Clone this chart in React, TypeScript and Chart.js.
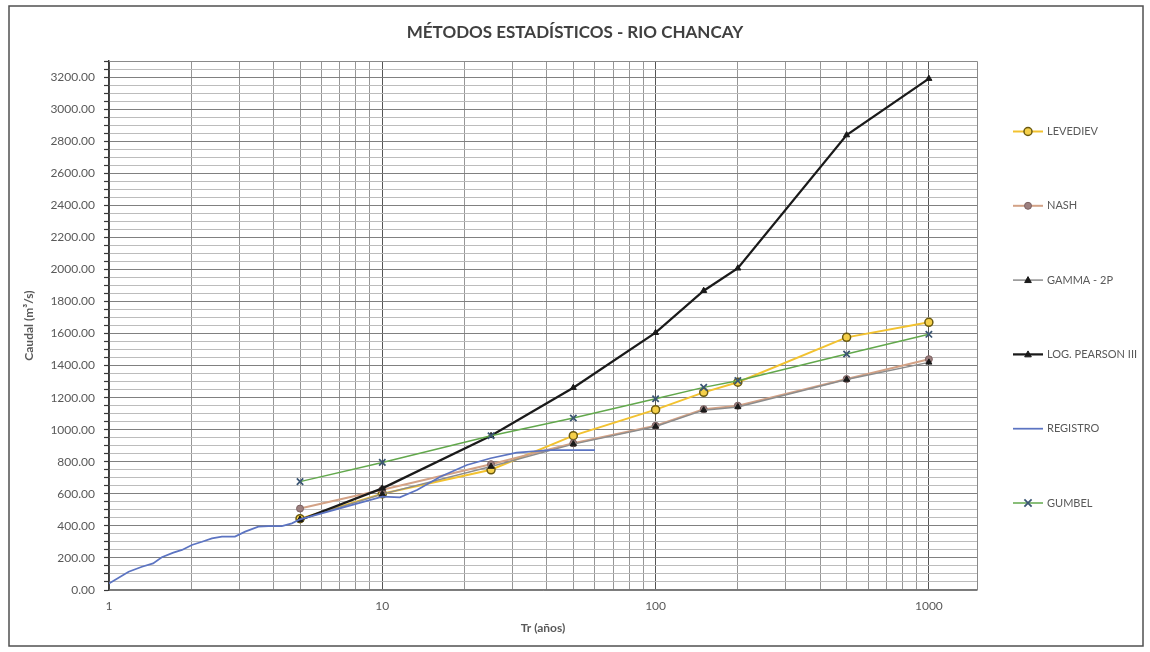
import React, { useEffect, useRef } from 'react';
import { Chart, registerables } from 'chart.js';

Chart.register(...registerables);

// ---------------- data ----------------
const CHART_TITLE = 'MÉTODOS ESTADÍSTICOS - RIO CHANCAY';
const X_TITLE = 'Tr (años)';
const Y_TITLE = 'Caudal (m³/s)';

const returnPeriods = [5, 10, 25, 50, 100, 150, 200, 500, 1000];
const levediev = [445, 600, 750, 963, 1125, 1233, 1296, 1576, 1670];
const nash = [508, 625, 785, 915, 1025, 1128, 1150, 1316, 1440];
const gamma2p = [440, 598, 770, 910, 1020, 1122, 1142, 1313, 1420];
const logPearson = [437, 634, 962, 1262, 1605, 1867, 2007, 2838, 3190];
const gumbel = [676, 796, 962, 1073, 1193, 1264, 1306, 1472, 1595];

const registroTr = [1.0, 1.18, 1.32, 1.45, 1.56, 1.72, 1.85, 2.01, 2.19, 2.38, 2.59, 2.89, 3.15, 3.52, 3.83, 4.29, 4.67, 5.0, 10, 11.6, 13.4, 16.3, 20.4, 24.9, 31, 41, 60];
const registroQ = [40, 114, 145, 166, 204, 233, 250, 281, 301, 322, 333, 333, 364, 395, 399, 399, 416, 441, 582, 578, 624, 707, 780, 822, 857, 873, 873];

const seriesNames = ['LEVEDIEV', 'NASH', 'GAMMA - 2P', 'LOG. PEARSON III', 'REGISTRO', 'GUMBEL'];

const xMin = 1;
const xMax = 1500;
const yMin = 0;
const yMax = 3300;
const yMinorStep = 50;
const yMajorStep = 200;
const xLabelTicks = [1, 10, 100, 1000];
const xGridTicks = [1, 2, 3, 4, 5, 6, 7, 8, 9, 10, 20, 30, 40, 50, 60, 70, 80, 90, 100, 200, 300, 400, 500, 600, 700, 800, 900, 1000];

// ---------------- helpers ----------------
const FONT = 'Lato, "Open Sans", "DejaVu Sans", sans-serif';
const TEXT = '#595959';

const toPoints = (xs: number[], ys: number[]) => xs.map((x, i) => ({ x, y: ys[i] }));

function drawMarker(ctx: CanvasRenderingContext2D, style: string, x: number, y: number, r: number, fill: string, stroke: string, lw: number) {
  ctx.save();
  ctx.fillStyle = fill;
  ctx.strokeStyle = stroke;
  ctx.lineWidth = lw;
  ctx.beginPath();
  if (style === 'circle') {
    ctx.arc(x, y, r, 0, Math.PI * 2);
    ctx.fill();
    ctx.stroke();
  } else if (style === 'triangle') {
    ctx.moveTo(x, y - r);
    ctx.lineTo(x + r * 0.95, y + r * 0.7);
    ctx.lineTo(x - r * 0.95, y + r * 0.7);
    ctx.closePath();
    ctx.fill();
    ctx.stroke();
  } else if (style === 'crossRot') {
    const d = r * 0.8;
    ctx.moveTo(x - d, y - d);
    ctx.lineTo(x + d, y + d);
    ctx.moveTo(x + d, y - d);
    ctx.lineTo(x - d, y + d);
    ctx.stroke();
  }
  ctx.restore();
}

const framePlugin = {
  id: 'frame',
  beforeDraw(chart: any) {
    const { ctx, width, height } = chart;
    ctx.save();
    ctx.fillStyle = '#ffffff';
    ctx.fillRect(0, 0, width, height);
    ctx.strokeStyle = '#505050';
    ctx.lineWidth = 1.5;
    ctx.strokeRect(9, 6, 1134, 640);
    ctx.restore();
  },
  beforeDatasetsDraw(chart: any) {
    const { ctx, chartArea } = chart;
    ctx.save();
    ctx.strokeStyle = '#8a8a8a';
    ctx.lineWidth = 1;
    ctx.beginPath();
    ctx.moveTo(chartArea.left, chartArea.top + 0.5);
    ctx.lineTo(chartArea.right + 0.5, chartArea.top + 0.5);
    ctx.lineTo(chartArea.right + 0.5, chartArea.bottom);
    ctx.stroke();
    ctx.restore();
  },
};

const sideLegendPlugin = {
  id: 'sideLegend',
  afterDraw(chart: any) {
    const ctx = chart.ctx as CanvasRenderingContext2D;
    const x0 = 1013;
    const x1 = 1043;
    const textX = 1047;
    const yStart = 131.5;
    const step = 74.3;
    chart.data.datasets.forEach((ds: any, i: number) => {
      const y = yStart + i * step;
      ctx.save();
      ctx.strokeStyle = ds.borderColor;
      ctx.lineWidth = ds.borderWidth;
      ctx.beginPath();
      ctx.moveTo(x0, y);
      ctx.lineTo(x1, y);
      ctx.stroke();
      ctx.restore();
      if (ds.pointRadius > 0) {
        drawMarker(ctx, ds.pointStyle, (x0 + x1) / 2, y, ds.pointRadius, ds.pointBackgroundColor, ds.pointBorderColor, ds.pointBorderWidth);
      }
      ctx.save();
      ctx.fillStyle = TEXT;
      ctx.font = `11px ${FONT}`;
      ctx.textBaseline = 'middle';
      ctx.textAlign = 'left';
      ctx.fillText(ds.label, textX, y);
      ctx.restore();
    });
  },
};

export default function App() {
  const canvasRef = useRef<HTMLCanvasElement | null>(null);

  useEffect(() => {
    const canvas = canvasRef.current;
    if (!canvas) return;

    const datasets: any[] = [
      {
        label: seriesNames[0],
        data: toPoints(returnPeriods, levediev),
        borderColor: '#F2C230',
        borderWidth: 2,
        pointStyle: 'circle',
        pointRadius: 4,
        pointBackgroundColor: '#F5D04A',
        pointBorderColor: '#6B5A10',
        pointBorderWidth: 1.5,
        order: 6,
      },
      {
        label: seriesNames[1],
        data: toPoints(returnPeriods, nash),
        borderColor: '#D3A286',
        borderWidth: 2,
        pointStyle: 'circle',
        pointRadius: 3.5,
        pointBackgroundColor: '#9C7F7F',
        pointBorderColor: '#7D6262',
        pointBorderWidth: 1,
        order: 5,
      },
      {
        label: seriesNames[2],
        data: toPoints(returnPeriods, gamma2p),
        borderColor: '#8C8C8C',
        borderWidth: 1.5,
        pointStyle: 'triangle',
        pointRadius: 3.5,
        pointBackgroundColor: '#1a1a1a',
        pointBorderColor: '#1a1a1a',
        pointBorderWidth: 1,
        order: 4,
      },
      {
        label: seriesNames[3],
        data: toPoints(returnPeriods, logPearson),
        borderColor: '#1a1a1a',
        borderWidth: 2.25,
        pointStyle: 'triangle',
        pointRadius: 3.5,
        pointBackgroundColor: '#1a1a1a',
        pointBorderColor: '#1a1a1a',
        pointBorderWidth: 1,
        order: 3,
      },
      {
        label: seriesNames[4],
        data: toPoints(registroTr, registroQ),
        borderColor: '#5C74C2',
        borderWidth: 1.75,
        pointStyle: 'circle',
        pointRadius: 0,
        pointBackgroundColor: '#5C74C2',
        pointBorderColor: '#5C74C2',
        pointBorderWidth: 0,
        order: 2,
      },
      {
        label: seriesNames[5],
        data: toPoints(returnPeriods, gumbel),
        borderColor: '#62A84C',
        borderWidth: 1.5,
        pointStyle: 'crossRot',
        pointRadius: 4.5,
        pointBackgroundColor: '#3B5673',
        pointBorderColor: '#3B5673',
        pointBorderWidth: 1.75,
        order: 1,
      },
    ];

    const chart = new Chart(canvas, {
      type: 'line',
      data: { datasets },
      plugins: [framePlugin, sideLegendPlugin],
      options: {
        responsive: false,
        animation: false,
        layout: { padding: 0 },
        elements: { line: { tension: 0 } },
        plugins: {
          legend: { display: false },
          tooltip: { enabled: false },
          title: {
            display: true,
            text: CHART_TITLE,
            color: '#404040',
            font: { family: FONT, size: 17, weight: 'bold', lineHeight: 1.2 },
            padding: { top: 22, bottom: 18.6 },
          },
        },
        scales: {
          x: {
            type: 'logarithmic',
            min: xMin,
            max: xMax,
            afterBuildTicks: (s: any) => {
              s.ticks = xGridTicks.map((v) => ({ value: v }));
            },
            afterFit: (s: any) => {
              s.height = 62;
            },
            ticks: {
              autoSkip: false,
              maxRotation: 0,
              minRotation: 0,
              padding: 9,
              color: TEXT,
              font: { family: FONT, size: 12 },
              callback: (v: any) => (xLabelTicks.includes(Number(v)) ? String(v) : ''),
            },
            grid: {
              drawTicks: false,
              color: (c: any) => (xLabelTicks.includes(c.tick?.value) ? '#555555' : '#969696'),
              lineWidth: 1,
            },
            border: { display: true, color: '#7a7a7a', width: 1.5 },
            title: {
              display: true,
              text: X_TITLE,
              color: TEXT,
              font: { family: FONT, size: 12, weight: 'bold', lineHeight: 1.2 },
              padding: { top: 0, bottom: 17 },
            },
          },
          y: {
            type: 'linear',
            min: yMin,
            max: yMax,
            afterFit: (s: any) => {
              s.width = 109;
            },
            ticks: {
              stepSize: yMinorStep,
              autoSkip: false,
              padding: 9,
              color: TEXT,
              font: { family: FONT, size: 12 },
              callback: (v: any) => (Number(v) % yMajorStep === 0 ? Number(v).toFixed(2) : ''),
            },
            grid: {
              drawTicks: true,
              tickLength: 5,
              tickColor: '#3a3a3a',
              tickWidth: 1.2,
              color: (c: any) => (c.tick && c.tick.value % yMajorStep === 0 ? '#808080' : '#bcbcbc'),
              lineWidth: 1,
            },
            border: { display: true, color: '#3a3a3a', width: 1.5 },
            title: {
              display: true,
              text: Y_TITLE,
              color: TEXT,
              font: { family: FONT, size: 12, weight: 'bold', lineHeight: 1.2 },
              padding: { top: 22, bottom: 0 },
            },
          },
          y2: {
            type: 'linear',
            position: 'right',
            display: true,
            grid: { display: false, drawTicks: false },
            ticks: { display: false },
            border: { display: false },
            afterFit: (s: any) => {
              s.width = 173;
            },
          },
        },
      } as any,
    });

    return () => {
      chart.destroy();
    };
  }, []);

  return (
    <canvas
      ref={canvasRef}
      width={1150}
      height={652}
      style={{ position: 'absolute', left: 0, top: 0, display: 'block', width: 1150, height: 652 }}
    />
  );
}
